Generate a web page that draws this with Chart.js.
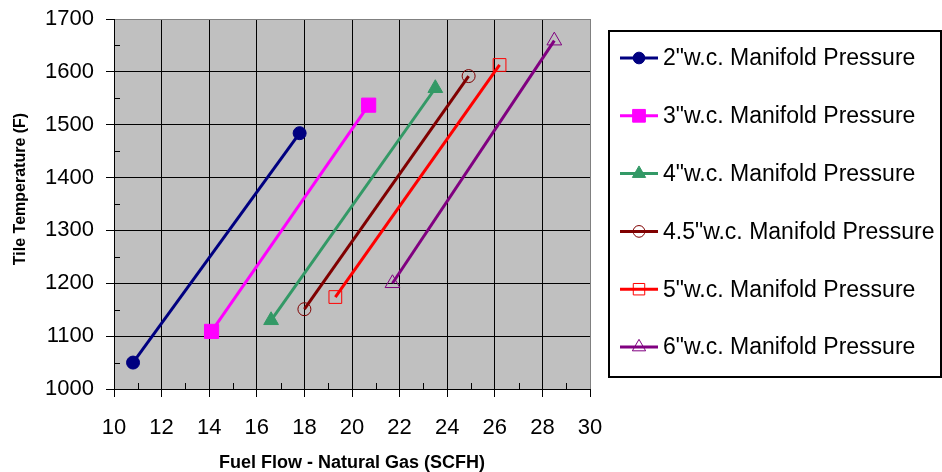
<!DOCTYPE html>
<html>
<head>
<meta charset="utf-8">
<script src="https://cdn.jsdelivr.net/npm/chart.js@4/dist/chart.umd.min.js"></script>
<style>
  html, body { margin: 0; padding: 0; background: #fff; }
  #wrap { width: 942px; height: 472px; position: relative; }
</style>
</head>
<body>
<div id="wrap"><canvas id="mainChart"></canvas></div>
<script>
// Data (fuel flow SCFH vs tile temperature F)
const flow2 = [10.8, 17.8];   const temp2 = [1050, 1484];
const flow3 = [14.1, 20.7];   const temp3 = [1109, 1537];
const flow4 = [16.6, 23.5];   const temp4 = [1130, 1569];
const flow45 = [18.0, 24.9];  const temp45 = [1151, 1592];
const flow5 = [19.3, 26.2];   const temp5 = [1174, 1613];
const flow6 = [21.7, 28.5];   const temp6 = [1200, 1659];

const seriesNames = [
  '2"w.c. Manifold Pressure',
  '3"w.c. Manifold Pressure',
  '4"w.c. Manifold Pressure',
  '4.5"w.c. Manifold Pressure',
  '5"w.c. Manifold Pressure',
  '6"w.c. Manifold Pressure'
];
const xTicks = [10, 12, 14, 16, 18, 20, 22, 24, 26, 28, 30];
const yTicks = [1000, 1100, 1200, 1300, 1400, 1500, 1600, 1700];
const yTitle = 'Tile Temperature (F)';
const xTitle = 'Fuel Flow - Natural Gas (SCFH)';

const FONT = 'Liberation Sans, Arial, sans-serif';

function pts(xs, ys) { return xs.map((x, i) => ({ x: x, y: ys[i] })); }

function series(i, xs, ys, color, style, radius, hollow) {
  return {
    label: seriesNames[i],
    data: pts(xs, ys),
    showLine: true,
    borderColor: color,
    borderWidth: 3,
    pointStyle: style,
    pointRadius: radius,
    pointHoverRadius: radius,
    pointBackgroundColor: hollow ? 'rgba(0,0,0,0)' : color,
    pointBorderColor: color,
    pointBorderWidth: 1
  };
}

const datasets = [
  series(0, flow2, temp2, '#000080', 'circle', 6.5, false),
  series(1, flow3, temp3, '#FF00FF', 'rect', 10, false),
  series(2, flow4, temp4, '#339966', 'triangle', 8.5, false),
  series(3, flow45, temp45, '#800000', 'circle', 6.5, true),
  series(4, flow5, temp5, '#FF0000', 'rect', 9, true),
  series(5, flow6, temp6, '#800080', 'triangle', 8.5, true)
];

// gray plot background
const plotBg = {
  id: 'plotBg',
  beforeDraw(chart) {
    const a = chart.chartArea, c = chart.ctx;
    c.save();
    c.fillStyle = '#C0C0C0';
    c.fillRect(a.left, a.top, a.right - a.left, a.bottom - a.top);
    c.restore();
  }
};

// minor tick marks inside the plot + y axis title (sits a bit above center in the original)
const minorTicks = {
  id: 'minorTicks',
  afterDraw(chart) {
    const c = chart.ctx, xs = chart.scales.x, ys = chart.scales.y;
    const a = chart.chartArea;
    c.save();
    c.strokeStyle = '#000';
    c.lineWidth = 1;
    c.beginPath();
    for (let i = 0; i < yTicks.length - 1; i++) {
      const py = Math.round(ys.getPixelForValue(yTicks[i] + 50)) + 0.5;
      c.moveTo(a.left, py); c.lineTo(a.left + 6, py);
    }
    for (let i = 0; i < xTicks.length - 1; i++) {
      const px = Math.round(xs.getPixelForValue(xTicks[i] + 1)) + 0.5;
      c.moveTo(px, a.bottom); c.lineTo(px, a.bottom - 6);
    }
    c.stroke();
    c.translate(21, 189);
    c.rotate(-Math.PI / 2);
    c.fillStyle = '#000';
    c.font = 'bold 16px ' + FONT;
    c.textAlign = 'center';
    c.textBaseline = 'middle';
    c.fillText(yTitle, 0, 0);
    c.restore();
  }
};

// boxed legend on the right
const boxLegend = {
  id: 'boxLegend',
  afterDraw(chart) {
    const c = chart.ctx;
    const left = 609, top = 31, right = 941, bottom = 377;
    c.save();
    c.fillStyle = '#fff';
    c.fillRect(left, top, right - left, bottom - top);
    c.strokeStyle = '#000';
    c.lineWidth = 2;
    c.strokeRect(left, top, right - left, bottom - top);
    c.font = '23px ' + FONT;
    c.textBaseline = 'middle';
    chart.data.datasets.forEach((ds, i) => {
      const y = 58 + i * 57.8;
      c.strokeStyle = ds.borderColor;
      c.lineWidth = 3;
      c.beginPath();
      c.moveTo(620, y); c.lineTo(658, y);
      c.stroke();
      c.fillStyle = ds.pointBackgroundColor;
      c.strokeStyle = ds.pointBorderColor;
      c.lineWidth = 1;
      Chart.helpers.drawPoint(c, { pointStyle: ds.pointStyle, radius: ds.pointRadius * 0.9, borderWidth: 1, rotation: 0 }, 639, y);
      c.fillStyle = '#000';
      c.fillText(ds.label, 663, y + 1);
    });
    c.restore();
  }
};

const ctx = document.getElementById('mainChart').getContext('2d');
new Chart(ctx, {
  type: 'scatter',
  data: { datasets: datasets },
  options: {
    responsive: true,
    maintainAspectRatio: false,
    animation: false,
    layout: { padding: { top: 19, right: 352, left: 0, bottom: 0 } },
    plugins: { legend: { display: false }, tooltip: { enabled: false } },
    scales: {
      x: {
        type: 'linear', min: 10, max: 30,
        afterFit: (s) => { s.height = 83; s.paddingLeft = 0; s.paddingRight = 0; },
        afterBuildTicks: (s) => { s.ticks = xTicks.map(v => ({ value: v })); },
        ticks: { color: '#000', font: { family: FONT, size: 22 }, padding: 18, maxRotation: 0,
          callback: (v) => String(v) },
        grid: {
          color: (c) => c.tick && c.tick.value === 30 ? '#808080' : '#000',
          lineWidth: 1, tickLength: 8, tickColor: '#000'
        },
        border: { color: '#000', width: 1 },
        title: {
          display: true, text: xTitle, color: '#000',
          font: { family: FONT, size: 18, weight: 'bold' }, padding: { top: 0, bottom: -2 }
        }
      },
      y: {
        type: 'linear', min: 1000, max: 1700,
        afterFit: (s) => { s.width = 114; s.paddingTop = 0; s.paddingBottom = 0; },
        afterBuildTicks: (s) => { s.ticks = yTicks.map(v => ({ value: v })); },
        ticks: { color: '#000', font: { family: FONT, size: 22 }, padding: 12,
          callback: (v) => String(v) },
        grid: {
          color: (c) => c.tick && c.tick.value === 1700 ? '#808080' : '#000',
          lineWidth: 1, tickLength: 8, tickColor: '#000'
        },
        border: { color: '#000', width: 1 },
        title: { display: false }
      }
    }
  },
  plugins: [plotBg, minorTicks, boxLegend]
});
</script>
</body>
</html>
